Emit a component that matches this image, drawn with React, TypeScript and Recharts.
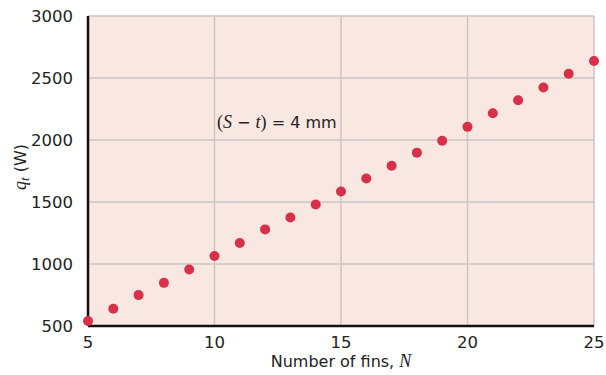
import React from "react";
import {
  ScatterChart,
  Scatter,
  XAxis,
  YAxis,
  CartesianGrid,
  ReferenceDot,
} from "recharts";

const fins = [5, 6, 7, 8, 9, 10, 11, 12, 13, 14, 15, 16, 17, 18, 19, 20, 21, 22, 23, 24, 25];
const heatRate = [540, 639, 749, 848, 955, 1065, 1169, 1279, 1375, 1480, 1584, 1689, 1793, 1898, 1994, 2106, 2216, 2320, 2424, 2534, 2637];
const xTicks = [5, 10, 15, 20, 25];
const yTicks = [500, 1000, 1500, 2000, 2500, 3000];

const data = fins.map((n, i) => ({ n, q: heatRate[i] }));

const FONT = "'DejaVu Sans', sans-serif";
const SERIF = "'Liberation Serif', serif";
const TEXT = "#222";

const Dot = (props: any) => (
  <circle cx={props.cx} cy={props.cy} r={5} fill="#d9304a" />
);

const YLabel = (props: any) => {
  const vb = props.viewBox || {};
  const cx = 20;
  const cy = vb.y + vb.height / 2 - 4;
  return (
    <text
      transform={`translate(${cx},${cy}) rotate(-90)`}
      textAnchor="middle"
      dominantBaseline="central"
      fill={TEXT}
      fontFamily={FONT}
      fontSize={16}
    >
      <tspan fontFamily={SERIF} fontStyle="italic" fontSize={18}>q</tspan>
      <tspan fontFamily={SERIF} fontStyle="italic" fontSize={13} dy={4}>t</tspan>
      <tspan dy={-4}> (W)</tspan>
    </text>
  );
};

const XLabel = (props: any) => {
  const vb = props.viewBox || {};
  return (
    <text
      x={vb.x + vb.width / 2}
      y={367}
      textAnchor="middle"
      fill={TEXT}
      fontFamily={FONT}
      fontSize={16}
    >
      Number of fins,{" "}
      <tspan fontFamily={SERIF} fontStyle="italic" fontSize={18}>N</tspan>
    </text>
  );
};

const Note = (props: any) => {
  const vb = props.viewBox || {};
  return (
    <text
      x={vb.x}
      y={vb.y}
      dominantBaseline="central"
      fill={TEXT}
      fontFamily={FONT}
      fontSize={16}
    >
      <tspan fontFamily={SERIF} fontSize={18}>(</tspan>
      <tspan fontFamily={SERIF} fontStyle="italic" fontSize={18}>S</tspan>
      <tspan> − </tspan>
      <tspan fontFamily={SERIF} fontStyle="italic" fontSize={18}>t</tspan>
      <tspan fontFamily={SERIF} fontSize={18}>)</tspan>
      <tspan> = 4 mm</tspan>
    </text>
  );
};

export default function App() {
  return (
    <div style={{ position: "absolute", left: 0, top: 0, width: 606, height: 375, background: "#fff" }}>
      <ScatterChart
        width={606}
        height={375}
        margin={{ top: 16, right: 12, bottom: 0, left: 0 }}
      >
        <CartesianGrid
          fill="#f9e7e1"
          stroke="#c9c6c4"
          strokeWidth={1.5}
          horizontalValues={yTicks}
          verticalValues={xTicks}
        />
        <XAxis
          type="number"
          dataKey="n"
          domain={[5, 25]}
          ticks={xTicks}
          height={49}
          tickLine={false}
          axisLine={{ stroke: "#111", strokeWidth: 2.5 }}
          tick={{ fill: TEXT, fontSize: 16.5, fontFamily: FONT }}
          tickMargin={4}
          label={<XLabel />}
        />
        <XAxis
          xAxisId="top"
          orientation="top"
          type="number"
          domain={[5, 25]}
          height={0}
          tick={false}
          tickLine={false}
          axisLine={{ stroke: "#111", strokeWidth: 2.5 }}
        />
        <YAxis
          type="number"
          dataKey="q"
          domain={[500, 3000]}
          ticks={yTicks}
          width={88}
          tickLine={false}
          axisLine={{ stroke: "#111", strokeWidth: 2.5 }}
          tick={{ fill: TEXT, fontSize: 16.5, fontFamily: FONT }}
          tickMargin={9}
          label={<YLabel />}
        />
        <YAxis
          yAxisId="right"
          orientation="right"
          type="number"
          domain={[500, 3000]}
          width={0}
          tick={false}
          tickLine={false}
          axisLine={{ stroke: "#111", strokeWidth: 2.5 }}
        />
        <ReferenceDot x={10.1} y={2147} r={0} fill="none" stroke="none" label={<Note />} />
        <Scatter data={data} isAnimationActive={false} shape={<Dot />} />
      </ScatterChart>
    </div>
  );
}
